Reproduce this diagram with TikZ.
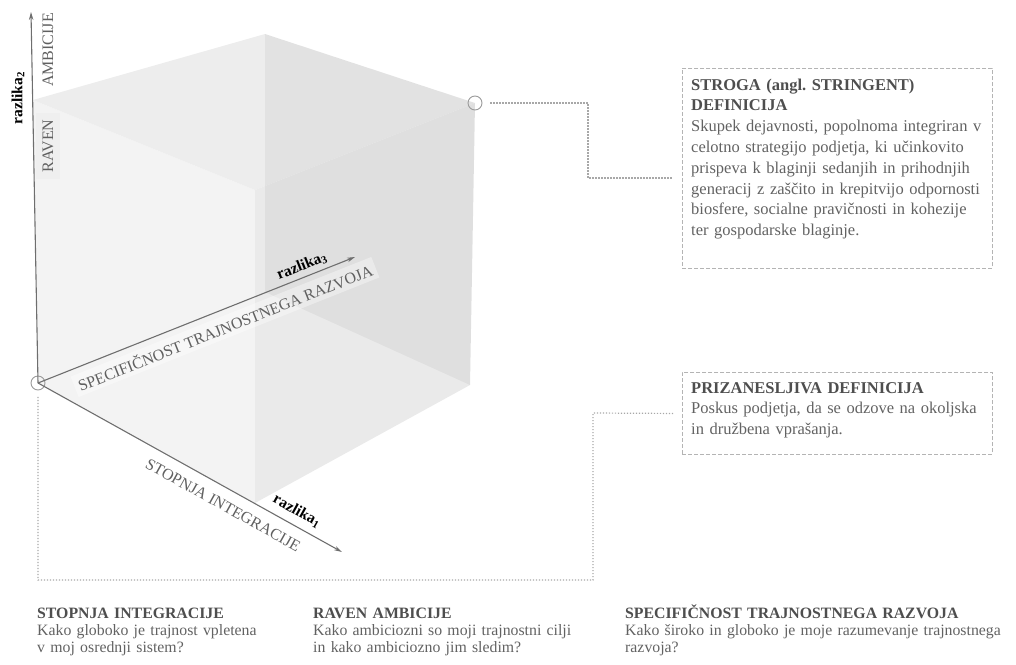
\documentclass[tikz,border=0pt]{standalone}
\usepackage{fontspec}
\setmainfont{Liberation Serif}
\usetikzlibrary{arrows.meta}
\frenchspacing
\definecolor{axisgray}{HTML}{6E6E6E}
\definecolor{labelgray}{HTML}{606060}
\definecolor{headgray}{HTML}{4E4E4E}
\definecolor{bodygray}{HTML}{626262}
\definecolor{linkgray}{HTML}{A8A8A8}
\definecolor{boxgray}{HTML}{B4B4B4}
\definecolor{markgray}{HTML}{9A9A9A}
\definecolor{frontface}{HTML}{F3F3F3}
\definecolor{topface}{HTML}{EDEDED}
\definecolor{sideface}{HTML}{EAEAEA}
\definecolor{labelbg}{HTML}{EFEFEF}
% first-line strut that clears accents on capitals
\newcommand\firstline{\rule{0pt}{15pt}}

\begin{document}
\begin{tikzpicture}[x=1pt,y=-1pt,
  axis/.style={draw=axisgray,line width=1.1pt,-{Stealth[length=8pt,width=4.5pt]}},
  axislabel/.style={text=labelgray,font=\fontsize{16}{16}\selectfont,inner sep=1pt},
  difflabel/.style={text=black,font=\bfseries\fontsize{15.5}{15.5}\selectfont,inner sep=0pt},
  marker/.style={circle,draw=markgray,line width=0.9pt,minimum size=14pt,inner sep=0pt},
  link/.style={draw=linkgray,line width=1.2pt,dash pattern=on 1.2pt off 1.8pt},
  defbox/.style={draw=boxgray,line width=0.9pt,dash pattern=on 4pt off 2pt,
    anchor=north west,inner sep=0pt,minimum width=310pt},
  deftext/.style={anchor=north west,inner sep=0pt,text width=320pt,align=left,
    text=bodygray,font=\fontsize{16.5}{20.8}\selectfont},
  colhead/.style={anchor=north west,inner sep=0pt,text width=380pt,align=left,
    text=bodygray,font=\fontsize{15.8}{17}\selectfont}
]
\useasboundingbox (0,0) rectangle (1016,664);

% cube corners
\coordinate (O)  at (38,383);
\coordinate (A)  at (33,100);
\coordinate (B)  at (265,292);
\coordinate (Bt) at (265,34);
\coordinate (C)  at (255,503);
\coordinate (Ct) at (255,190);
\coordinate (D)  at (470,385);
\coordinate (Dt) at (475,103);

% translucent cube faces
\fill[frontface] (O) -- (A) -- (Ct) -- (C) -- cycle;
\fill[topface] (A) -- (Bt) -- (Dt) -- (Ct) -- cycle;
\fill[sideface] (C) -- (Ct) -- (Dt) -- (D) -- cycle;
\fill[black,fill opacity=0.045] (B) -- (Bt) -- (Dt) -- (D) -- cycle;

% corner markers
\node[marker] (orig) at (O) {};
\node[marker] (top) at (Dt) {};

% axis tips
\coordinate (ytip) at (31,12);
\coordinate (stip) at (355,257);
\coordinate (itip) at (342,552);

\draw[axis] (orig.center) -- (ytip);
\draw[axis] (orig.center) -- (stip);
\draw[axis] (orig.center) -- (itip);

% axis labels
\node[axislabel,rotate=90,fill=labelbg,inner xsep=6pt,inner ysep=7pt] (raven) at (48,146) {RAVEN};
\node[axislabel,rotate=90] (ambicije) at (48,50) {AMBICIJE};
\node[difflabel,rotate=90] (r2) at (18,98) {razlika\textsubscript{2}};

\node[axislabel,rotate=21.7,fill=white,fill opacity=0.35,text opacity=1,inner sep=4pt] (spec) at (225,327)
  {SPECIFIČNOST TRAJNOSTNEGA RAZVOJA};
\node[difflabel,rotate=21.7] (r3) at (302,266) {razlika\textsubscript{3}};

\node[axislabel,rotate=-29.1] (stop) at (223,505) {STOPNJA INTEGRACIJE};
\node[difflabel,rotate=-29.1] (r1) at (297,511) {razlika\textsubscript{1}};

% definition boxes
\node[defbox,minimum height=200pt] (strict) at (682,68) {};
\node[deftext] (strictText) at (691,75.4) {\strut{\color{headgray}\bfseries STROGA (angl. STRINGENT)\\DEFINICIJA}\\
Skupek dejavnosti, popolnoma integriran v\\
celotno strategijo podjetja, ki učinkovito\\
prispeva k blaginji sedanjih in prihodnjih\\
generacij z zaščito in krepitvijo odpornosti\\
biosfere, socialne pravičnosti in kohezije\\
ter gospodarske blaginje.};

\node[defbox,minimum height=82pt] (lenient) at (682,372) {};
\node[deftext] (lenientText) at (691,378.4) {\strut{\color{headgray}\bfseries PRIZANESLJIVA DEFINICIJA}\\
Poskus podjetja, da se odzove na okoljska\\
in družbena vprašanja.};

% dotted leaders
\coordinate (k1) at (588,103);
\coordinate (k2) at (588,178);
\draw[link] ([xshift=8pt]top.east) -- (k1) -- (k2) -- ([xshift=-9pt]strict.west |- k2);
\coordinate (k3) at (593,413);
\coordinate (k4) at (593,580);
\coordinate (k5) at (38,580);
\draw[link] ([xshift=-9pt]lenient.west) -- (k3) -- (k4) -- (k5) -- ([yshift=-5pt]orig.south);

% dimension captions
\node[colhead] (capInt) at (37,603) {\firstline{\color{headgray}\bfseries STOPNJA INTEGRACIJE}\\
Kako globoko je trajnost vpletena\\
v moj osrednji sistem?};
\node[colhead] (capAmb) at (313,603) {\firstline{\color{headgray}\bfseries RAVEN AMBICIJE}\\
Kako ambiciozni so moji trajnostni cilji\\
in kako ambiciozno jim sledim?};
\node[colhead] (capSpec) at (625,603) {\firstline{\color{headgray}\bfseries SPECIFIČNOST TRAJNOSTNEGA RAZVOJA}\\
Kako široko in globoko je moje razumevanje trajnostnega\\
razvoja?};
\end{tikzpicture}
\end{document}
